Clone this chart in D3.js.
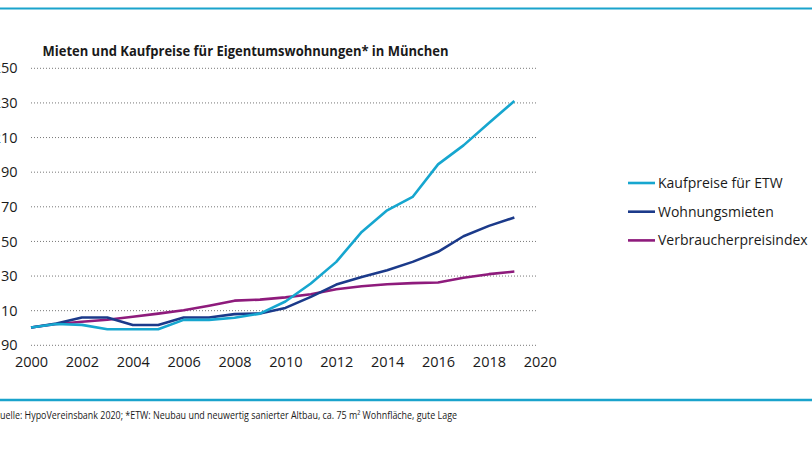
<!DOCTYPE html>
<html><head><meta charset="utf-8">
<script src="https://cdn.jsdelivr.net/npm/d3@7/dist/d3.min.js"></script>
<style>body{margin:0;background:#fff;} svg{display:block;}</style>
</head><body>
<script>
const years = [2000,2001,2002,2003,2004,2005,2006,2007,2008,2009,2010,2011,2012,2013,2014,2015,2016,2017,2018,2019];
const kaufpreise = [100,102,101.5,99,99,99,104.4,104.4,105.6,108,115,125.4,137.9,155.2,167.7,175.4,194.2,205.2,218.1,230.8];
const mieten = [100,102.3,105.8,105.8,101.4,101.4,105.8,105.8,107.7,108.1,111.3,117.7,124.8,129.2,133.1,137.9,143.7,152.7,158.7,163.5];
const vpi = [100,102,103.3,104.5,106.2,108,110,112.6,115.5,116.1,117.4,119.2,122.1,123.8,125,125.6,126,128.7,130.8,132.3];
const yTicks = [90,110,130,150,170,190,210,230,250];
const xTicks = [2000,2002,2004,2006,2008,2010,2012,2014,2016,2018,2020];
const seriesNames = ["Kaufpreise für ETW","Wohnungsmieten","Verbraucherpreisindex"];
const colors = ["#16A6CF","#1B3A8A","#8E1B7C"];
const title = "Mieten und Kaufpreise für Eigentumswohnungen* in München";
const footer = "Quelle: HypoVereinsbank 2020; *ETW: Neubau und neuwertig sanierter Altbau, ca. 75 m² Wohnfläche, gute Lage";

const W = 812, H = 459;
const svg = d3.select("body").append("svg").attr("width", W).attr("height", H);
const font = "'Open Sans', 'Noto Sans', sans-serif";

const x = d3.scaleLinear().domain([2000,2020]).range([31, 539.8]);
const y = d3.scaleLinear().domain([90,250]).range([344.8, 67.8]);

// top and bottom rules
svg.append("line").attr("x1",0).attr("x2",W).attr("y1",8.5).attr("y2",8.5).attr("stroke","#1AA3CC").attr("stroke-width",2);
svg.append("line").attr("x1",0).attr("x2",W).attr("y1",400).attr("y2",400).attr("stroke","#1AA3CC").attr("stroke-width",2.5);

// title
svg.append("text").attr("x",42.5).attr("y",56).attr("font-family",font).attr("font-weight",700)
  .attr("font-size",14).attr("fill","#1a1a1a").attr("textLength",406).attr("lengthAdjust","spacingAndGlyphs").text(title);

// gridlines
const yAxis = d3.axisLeft(y).tickValues(yTicks).tickSize(-(538 - 31)).tickPadding(14).tickFormat(d3.format("d"));
const gy = svg.append("g").attr("transform","translate(31,0)").call(yAxis);
gy.select(".domain").remove();
gy.selectAll(".tick line").attr("stroke","#777").attr("stroke-dasharray","1,2").attr("stroke-width",1);
gy.selectAll(".tick text").attr("font-family",font).attr("font-size",14.5).attr("fill","#1a1a1a").attr("x",-13.5).attr("dy","0.35em");

const xAxis = d3.axisBottom(x).tickValues(xTicks).tickSize(0).tickPadding(0).tickFormat(d3.format("d"));
const gx = svg.append("g").attr("transform","translate(0,357)").call(xAxis);
gx.select(".domain").remove();
gx.selectAll(".tick text").attr("font-family",font).attr("font-size",14.5).attr("fill","#1a1a1a").attr("dy","0.71em");

// lines
const all = [kaufpreise, mieten, vpi];
const line = d3.line().x((d,i)=>x(years[i])).y(d=>y(d));
[2,1,0].forEach(k=>{
  svg.append("path").datum(all[k]).attr("d",line).attr("fill","none").attr("stroke",colors[k])
    .attr("stroke-width",2.6).attr("stroke-linejoin","round").attr("stroke-linecap","butt");
});

// legend
const lg = svg.append("g");
seriesNames.forEach((n,i)=>{
  const yy = 183 + i*28.7;
  lg.append("line").attr("x1",628).attr("x2",655).attr("y1",yy).attr("y2",yy).attr("stroke",colors[i]).attr("stroke-width",2.6);
  lg.append("text").attr("x",658).attr("y",yy).attr("dy","0.35em").attr("font-family",font).attr("font-size",14)
    .attr("fill","#1a1a1a").text(n);
});

// footer
svg.append("text").attr("x",-7).attr("y",419).attr("font-family",font).attr("font-size",10)
  .attr("fill","#1a1a1a").attr("textLength",464).attr("lengthAdjust","spacingAndGlyphs").text(footer);
</script>
</body></html>
